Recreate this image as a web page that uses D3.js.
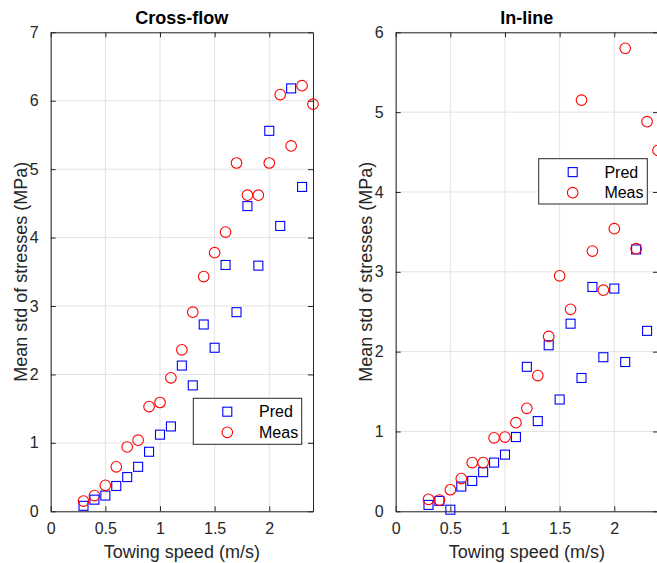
<!DOCTYPE html>
<html>
<head>
<meta charset="utf-8">
<script src="https://cdn.jsdelivr.net/npm/d3@7"></script>
<style>
  html, body { margin: 0; padding: 0; background: #ffffff; }
  svg { display: block; font-family: "Liberation Sans", Arial, Helvetica, sans-serif; }
</style>
</head>
<body>
<svg id="chart" width="657" height="563"></svg>
<script>
// Towing speeds (m/s) for the predicted and measured runs
const speedsPred = [0.3, 0.4, 0.5, 0.6, 0.7, 0.8, 0.9, 1.0, 1.1, 1.2, 1.3, 1.4, 1.5, 1.6, 1.7, 1.8, 1.9, 2.0, 2.1, 2.2, 2.3];
const speedsMeas = [0.3, 0.4, 0.5, 0.6, 0.7, 0.8, 0.9, 1.0, 1.1, 1.2, 1.3, 1.4, 1.5, 1.6, 1.7, 1.8, 1.9, 2.0, 2.1, 2.2, 2.3, 2.4];

// Mean std of stresses (MPa), cross-flow direction
const crossPred = [0.08, 0.17, 0.23, 0.37, 0.50, 0.65, 0.87, 1.12, 1.24, 2.13, 1.84, 2.73, 2.39, 3.60, 2.91, 4.46, 3.59, 5.56, 4.17, 6.18, 4.74];
const crossMeas = [0.15, 0.23, 0.38, 0.65, 0.94, 1.04, 1.53, 1.59, 1.95, 2.36, 2.91, 3.43, 3.78, 4.08, 5.09, 4.62, 4.62, 5.09, 6.09, 5.34, 6.22, 5.95];

// Mean std of stresses (MPa), in-line direction
const inlinePred = [0.08, 0.13, 0.02, 0.31, 0.38, 0.49, 0.61, 0.71, 0.93, 1.81, 1.13, 2.08, 1.40, 2.35, 1.67, 2.81, 1.93, 2.79, 1.87, 3.28, 2.26];
const inlineMeas = [0.15, 0.14, 0.27, 0.41, 0.61, 0.61, 0.92, 0.93, 1.11, 1.29, 1.70, 2.19, 2.95, 2.53, 5.15, 3.26, 2.77, 3.54, 5.80, 3.29, 4.88, 4.52];

// Axis ticks and labels
const xTicks = [0, 0.5, 1, 1.5, 2];
const crossYTicks = [0, 1, 2, 3, 4, 5, 6, 7];
const inlineYTicks = [0, 1, 2, 3, 4, 5, 6];
const seriesNames = ["Pred", "Meas"];
const titles = ["Cross-flow", "In-line"];
const xLabel = "Towing speed (m/s)";
const yLabel = "Mean std of stresses (MPa)";

const AXIS_COLOR = "#262626";
const GRID_COLOR = "#e3e3e3";
const PRED_COLOR = "#0000ff";
const MEAS_COLOR = "#ff0000";

const svg = d3.select("#chart");
svg.append("rect").attr("width", 657).attr("height", 563).attr("fill", "#ffffff");

const panels = [
  { title: titles[0], pred: crossPred, meas: crossMeas, yMax: 7, yTicks: crossYTicks,
    left: 50.7, right: 313, legend: { x: 193.3, y: 398.3, w: 108.4, h: 46 } },
  { title: titles[1], pred: inlinePred, meas: inlineMeas, yMax: 6, yTicks: inlineYTicks,
    left: 395.7, right: 658, legend: { x: 538.7, y: 158.7, w: 108.6, h: 45.3 } }
];
const plotTop = 32.3, plotBottom = 511.3;
const tickLen = 5;
const fmt = d => String(d);

panels.forEach(p => {
  const x = d3.scaleLinear().domain([0, 2.4]).range([p.left, p.right]);
  const y = d3.scaleLinear().domain([0, p.yMax]).range([plotBottom, plotTop]);
  const g = svg.append("g");

  // grid
  g.append("g").selectAll("line").data(xTicks).join("line")
    .attr("x1", d => x(d)).attr("x2", d => x(d))
    .attr("y1", plotTop).attr("y2", plotBottom)
    .attr("stroke", GRID_COLOR).attr("stroke-width", 1);
  g.append("g").selectAll("line").data(p.yTicks).join("line")
    .attr("x1", p.left).attr("x2", p.right)
    .attr("y1", d => y(d)).attr("y2", d => y(d))
    .attr("stroke", GRID_COLOR).attr("stroke-width", 1);

  // axes with inward ticks on all four sides
  const axB = d3.axisBottom(x).tickValues(xTicks).tickFormat(fmt).tickSizeInner(-tickLen).tickSizeOuter(0).tickPadding(11);
  const axT = d3.axisTop(x).tickValues(xTicks).tickFormat("").tickSizeInner(-tickLen).tickSizeOuter(0);
  const axL = d3.axisLeft(y).tickValues(p.yTicks).tickFormat(fmt).tickSizeInner(-tickLen).tickSizeOuter(0).tickPadding(12);
  const axR = d3.axisRight(y).tickValues(p.yTicks).tickFormat("").tickSizeInner(-tickLen).tickSizeOuter(0);

  const styleAxis = sel => {
    sel.selectAll("path").attr("stroke", AXIS_COLOR).attr("stroke-width", 1);
    sel.selectAll("line").attr("stroke", AXIS_COLOR).attr("stroke-width", 1);
    sel.selectAll("text").attr("fill", AXIS_COLOR).style("font-size", "16px")
      .style("font-family", "'Liberation Sans', Arial, Helvetica, sans-serif");
  };
  g.append("g").attr("transform", `translate(0,${plotBottom})`).call(axB).call(styleAxis);
  g.append("g").attr("transform", `translate(0,${plotTop})`).call(axT).call(styleAxis);
  g.append("g").attr("transform", `translate(${p.left},0)`).call(axL).call(styleAxis);
  g.append("g").attr("transform", `translate(${p.right},0)`).call(axR).call(styleAxis);

  // title and axis labels
  g.append("text").attr("x", (p.left + p.right) / 2).attr("y", 24)
    .attr("text-anchor", "middle").attr("font-weight", "bold").attr("font-size", 18)
    .attr("fill", "#000000").text(p.title);
  g.append("text").attr("x", (p.left + p.right) / 2).attr("y", 558)
    .attr("text-anchor", "middle").attr("font-size", 18).attr("fill", AXIS_COLOR).text(xLabel);
  g.append("text")
    .attr("transform", `translate(${p.left - 23.7},${(plotTop + plotBottom) / 2}) rotate(-90)`)
    .attr("text-anchor", "middle").attr("font-size", 18).attr("fill", AXIS_COLOR).text(yLabel);

  // predicted: open squares
  const s = 9;
  g.append("g").selectAll("rect").data(p.pred.map((v, i) => [speedsPred[i], v])).join("rect")
    .attr("x", d => x(d[0]) - s / 2).attr("y", d => y(d[1]) - s / 2)
    .attr("width", s).attr("height", s)
    .attr("fill", "none").attr("stroke", PRED_COLOR).attr("stroke-width", 1.1);

  // measured: open circles
  g.append("g").selectAll("circle").data(p.meas.map((v, i) => [speedsMeas[i], v])).join("circle")
    .attr("cx", d => x(d[0])).attr("cy", d => y(d[1])).attr("r", 5.3)
    .attr("fill", "none").attr("stroke", MEAS_COLOR).attr("stroke-width", 1.1);

  // legend
  const L = p.legend;
  const lg = g.append("g");
  lg.append("rect").attr("x", L.x).attr("y", L.y).attr("width", L.w).attr("height", L.h)
    .attr("fill", "#ffffff").attr("stroke", AXIS_COLOR).attr("stroke-width", 1);
  const mx = L.x + 34, rows = [L.y + 13.4, L.y + 34];
  lg.append("rect").attr("x", mx - s / 2).attr("y", rows[0] - s / 2).attr("width", s).attr("height", s)
    .attr("fill", "none").attr("stroke", PRED_COLOR).attr("stroke-width", 1.1);
  lg.append("circle").attr("cx", mx).attr("cy", rows[1]).attr("r", 5.3)
    .attr("fill", "none").attr("stroke", MEAS_COLOR).attr("stroke-width", 1.1);
  seriesNames.forEach((name, i) => {
    lg.append("text").attr("x", L.x + 65.7).attr("y", rows[i]).attr("dy", "0.35em")
      .attr("font-size", 16).attr("fill", "#000000").text(name);
  });
});
</script>
</body>
</html>
